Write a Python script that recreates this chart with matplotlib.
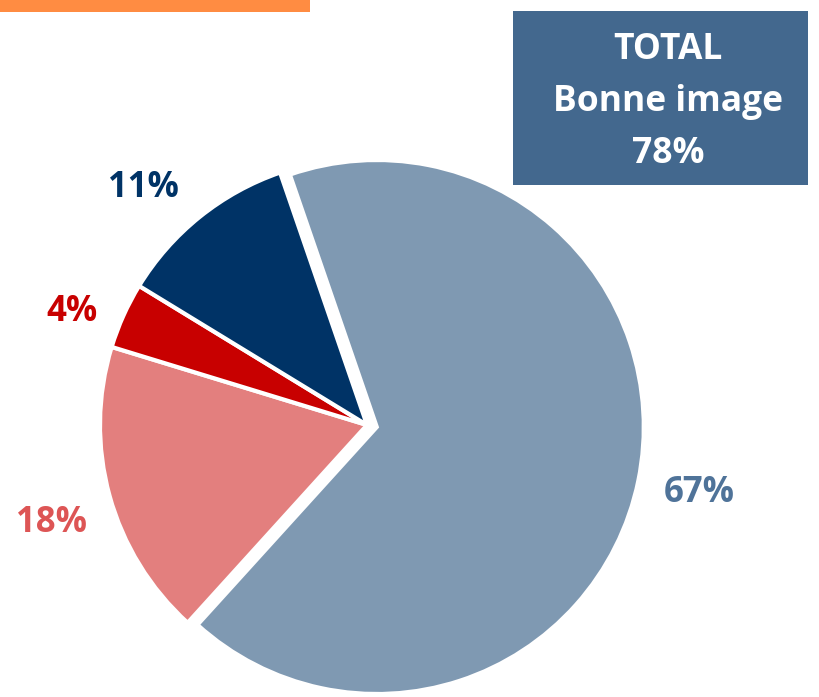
import numpy as np
import matplotlib.pyplot as plt
from matplotlib.patches import Rectangle

plt.rcParams['font.family'] = ['Open Sans', 'DejaVu Sans']

# pie data (clockwise from the top)
labels = ['Bonne image A', 'Mauvaise image', 'Très mauvaise image', 'Bonne image B']
values = [67, 18, 4, 11]
colors = ['#7F99B2', '#E37F7E', '#C80000', '#003366']
label_colors = ['#4F7399', '#DD5555', '#C80000', '#003366']

total_label = 'TOTAL\nBonne image\n78%'

# label placement tweaks (distance in radii, angle shift in degrees)
label_dist = [1.23, 1.235, 1.185, 1.225]
label_dang = [0.3, 1.6, 2.9, 4.2]

W, H = 819, 697
fig = plt.figure(figsize=(W / 100, H / 100), dpi=100)
ax = fig.add_axes([0, 0, 1, 1])

wedges, texts = ax.pie(
    values, colors=colors, explode=[10, 0, 0, 0], startangle=109, counterclock=False,
    center=(367, H - 425), radius=267,
    wedgeprops=dict(edgecolor='white', linewidth=3))

for w, v, c, d, da in zip(wedges, values, label_colors, label_dist, label_dang):
    cx, cy = w.center
    mid = np.deg2rad((w.theta1 + w.theta2) / 2 + da)
    ax.text(cx + d * w.r * np.cos(mid), cy + d * w.r * np.sin(mid) - 2, f'{v}%',
            ha='center', va='center', color=c, fontsize=25, fontweight='bold')

# orange bar top left
ax.add_patch(Rectangle((0, H - 12), 310, 12, color='#FF8C42', lw=0))
# total box
ax.add_patch(Rectangle((513, H - 185), 295, 174, color='#43688E', lw=0))
ax.text(668, H - 102, total_label, ha='center', va='center', color='white',
        fontsize=25.5, fontweight='bold', linespacing=1.58)

ax.set_xlim(0, W)
ax.set_ylim(0, H)
ax.set_aspect('equal')
ax.axis('off')

plt.savefig('out.png', dpi=100)
